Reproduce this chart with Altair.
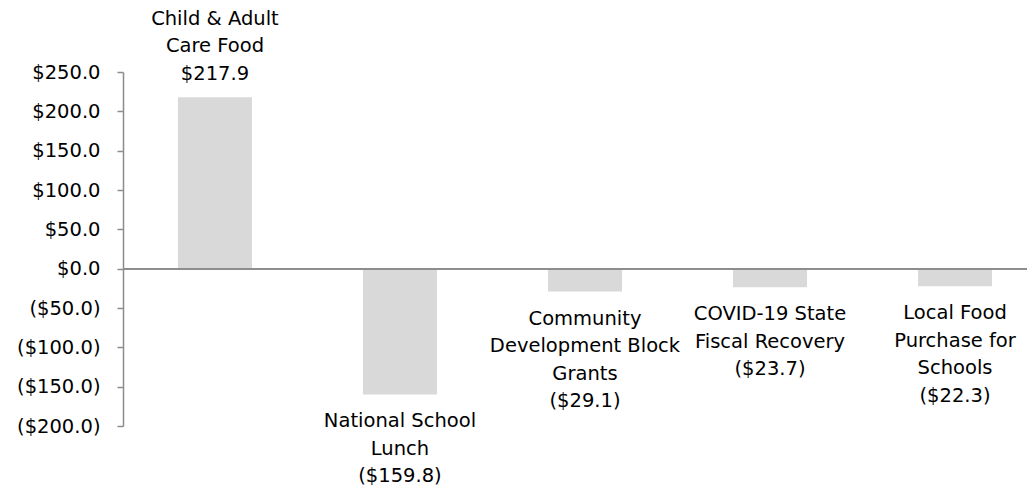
import altair as alt
import pandas as pd

programs = [
    "Child & Adult\nCare Food",
    "National School\nLunch",
    "Community\nDevelopment Block\nGrants",
    "COVID-19 State\nFiscal Recovery",
    "Local Food\nPurchase for\nSchools",
]
values = [217.9, -159.8, -29.1, -23.7, -22.3]
y_ticks = [-200, -150, -100, -50, 0, 50, 100, 150, 200, 250]


def fmt(v):
    return f"${v:.1f}" if v >= 0 else f"(${-v:.1f})"


df = pd.DataFrame({
    "program": programs,
    "value": values,
    "label": [f"{p}\n{fmt(v)}" for p, v in zip(programs, values)],
})

FONT = "DejaVu Sans"
FS = 19.5
LH = 27.5
GREY = "#8c8c8c"

x = alt.X(
    "program:N",
    sort=None,
    axis=None,
    scale=alt.Scale(paddingInner=0.6, paddingOuter=0.243, align=0.611),
)
y_scale = alt.Scale(domain=[-200, 250], nice=False, zero=True)
y_axis = alt.Axis(
    values=y_ticks,
    title=None,
    grid=False,
    labelOverlap=False,
    labelFlush=False,
    domainColor=GREY,
    domainWidth=1.5,
    tickColor=GREY,
    tickWidth=1.5,
    tickSize=6,
    labelPadding=17,
    labelFont=FONT,
    labelFontSize=FS,
    labelColor="#000000",
    labelExpr="datum.value < 0 ? '($' + format(-datum.value, '.1f') + ')' : '$' + format(datum.value, '.1f') + '\u00a0'",
)
y = alt.Y("value:Q", scale=y_scale, axis=y_axis)

base = alt.Chart(df)

bars = base.mark_bar(color="#d9d9d9").encode(x=x, y=y)

zero = base.mark_rule(color=GREY, strokeWidth=1.5).encode(
    y=alt.YDatum(0, type="quantitative", scale=y_scale, axis=y_axis)
)

# positive label: three lines stacked upward from the bar top
pos_text = base.transform_filter("datum.value >= 0").mark_text(
    font=FONT, fontSize=FS, color="#000000", align="center", baseline="bottom",
    lineBreak="\n", lineHeight=LH, dy=-13.5 - 2 * LH,
).encode(x=x, y=y, text="label:N")

neg_text = base.transform_filter("datum.value < 0").mark_text(
    font=FONT, fontSize=FS, color="#000000", align="center", baseline="top",
    lineBreak="\n", lineHeight=LH, dy=18,
).encode(x=x, y=y, text="label:N")

chart = (
    alt.layer(bars, zero, pos_text, neg_text)
    .properties(
        width=904,
        height=354,
        autosize=alt.AutoSizeParams(type="none"),
        padding={"left": 115, "top": 64, "right": 0, "bottom": 64},
    )
    .configure(font=FONT)
    .configure_view(stroke=None)
)

chart.save("out.html", embed_options={"renderer": "svg", "actions": False})
